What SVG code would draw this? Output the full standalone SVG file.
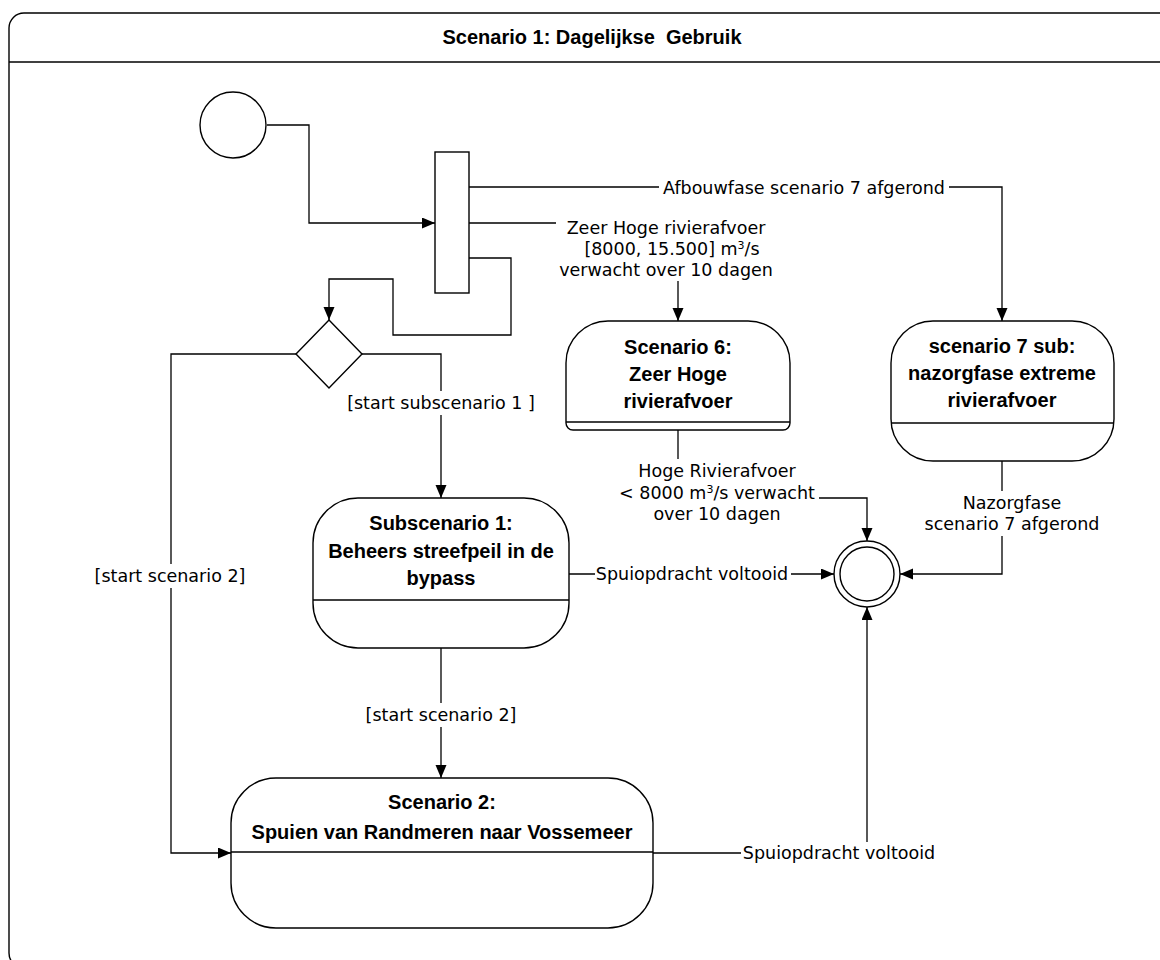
<svg xmlns="http://www.w3.org/2000/svg" width="1160" height="960" viewBox="0 0 1160 960">
<defs>
<marker id="arr" markerUnits="userSpaceOnUse" markerWidth="14" markerHeight="12" refX="13" refY="5.5" orient="auto">
<path d="M0,0 L13,5.5 L0,11 Z" fill="#000"/>
</marker>
<style>
.shape{fill:#fff;stroke:#000;stroke-width:1.4}
.line{fill:none;stroke:#000;stroke-width:1.3}
.edge{fill:none;stroke:#000;stroke-width:1.3;marker-end:url(#arr)}
.bg{fill:#fff;stroke:none}
.lbl{font-family:"DejaVu Sans",Verdana,sans-serif;font-size:17.5px;fill:#000;text-anchor:middle}
.nt{font-family:"Liberation Sans",Arial,sans-serif;font-size:20px;font-weight:bold;fill:#000;text-anchor:middle}
.title{white-space:pre}
.sup{font-size:11px}
</style>
</defs>
<rect width="1160" height="960" fill="#fff"/>
<g id="frame">
<rect class="shape" x="9" y="13" width="1166" height="955" rx="15"/>
<line class="line" x1="9" y1="62" x2="1175" y2="62"/>
<text class="nt title" x="592" y="44" xml:space="preserve">Scenario 1: Dagelijkse  Gebruik</text>
</g>
<g id="connectors">
<path class="edge" d="M267,125 H309 V223 H435"/>
<path class="edge" d="M469,187 H1002 V321"/>
<path class="edge" d="M469,223 H678 V321"/>
<path class="edge" d="M469,258 H511 V335 H393 V279 H329 V320"/>
<path class="edge" d="M362,354 H441 V498"/>
<path class="edge" d="M296,354 H171 V853 H231"/>
<path class="edge" d="M441,648 V778"/>
<path class="edge" d="M569,574 H834"/>
<path class="edge" d="M678,430 V498 H867 V541"/>
<path class="edge" d="M1002,461 V574 H900"/>
<path class="edge" d="M653,853 H867 V607"/>
<g id="labels">
<rect class="bg" x="659" y="176" width="290" height="23"/>
<text class="lbl" x="804" y="194">Afbouwfase scenario 7 afgerond</text>
<rect class="bg" x="556" y="216" width="220" height="65"/>
<text class="lbl" x="666" y="234">Zeer Hoge rivierafvoer</text>
<text class="lbl" x="672" y="255">[8000, 15.500] m<tspan class="sup" baseline-shift="super">3</tspan>/s</text>
<text class="lbl" x="666" y="276">verwacht over 10 dagen</text>
<rect class="bg" x="344" y="391" width="195" height="24"/>
<text class="lbl" x="441" y="409">[start subscenario 1 ]</text>
<rect class="bg" x="92" y="564" width="156" height="24"/>
<text class="lbl" x="170" y="582">[start scenario 2]</text>
<rect class="bg" x="363" y="703" width="156" height="24"/>
<text class="lbl" x="441" y="721">[start scenario 2]</text>
<rect class="bg" x="595" y="562" width="196" height="24"/>
<text class="lbl" x="692" y="580">Spuiopdracht voltooid</text>
<rect class="bg" x="615" y="459" width="204" height="67"/>
<text class="lbl" x="717" y="477">Hoge Rivierafvoer</text>
<text class="lbl" x="717" y="499">&lt; 8000 m<tspan class="sup" baseline-shift="super">3</tspan>/s verwacht</text>
<text class="lbl" x="717" y="520">over 10 dagen</text>
<rect class="bg" x="923" y="491" width="178" height="45"/>
<text class="lbl" x="1012" y="509">Nazorgfase</text>
<text class="lbl" x="1012" y="530">scenario 7 afgerond</text>
<rect class="bg" x="741" y="842" width="197" height="24"/>
<text class="lbl" x="839" y="859">Spuiopdracht voltooid</text>
</g>
</g>
<g id="start">
<circle class="shape" cx="233" cy="125" r="33"/>
</g>
<g id="fork">
<rect class="shape" x="435" y="152" width="34" height="141"/>
</g>
<g id="decision">
<polygon class="shape" points="329,320 362,354 329,388 296,354"/>
</g>
<g id="scenario6">
<path class="shape" d="M566,363 A42,42 0 0 1 608,321 H748 A42,42 0 0 1 790,363 V423 A7,7 0 0 1 783,430 H573 A7,7 0 0 1 566,423 Z"/>
<line class="line" x1="566" y1="422" x2="790" y2="422"/>
<text class="nt" x="678" y="354">Scenario 6:</text>
<text class="nt" x="678" y="381">Zeer Hoge</text>
<text class="nt" x="678" y="408">rivierafvoer</text>
</g>
<g id="scenario7">
<rect class="shape" x="891" y="321" width="223" height="140" rx="42"/>
<line class="line" x1="891" y1="423" x2="1114" y2="423"/>
<text class="nt" x="1002" y="353">scenario 7 sub:</text>
<text class="nt" x="1002" y="380">nazorgfase extreme</text>
<text class="nt" x="1002" y="407">rivierafvoer</text>
</g>
<g id="subscenario1">
<rect class="shape" x="313" y="498" width="256" height="150" rx="45"/>
<line class="line" x1="313" y1="600" x2="569" y2="600"/>
<text class="nt" x="441" y="530">Subscenario 1:</text>
<text class="nt" x="441" y="558">Beheers streefpeil in de</text>
<text class="nt" x="441" y="585">bypass</text>
</g>
<g id="scenario2">
<rect class="shape" x="231" y="778" width="422" height="150" rx="45"/>
<line class="line" x1="231" y1="852" x2="653" y2="852"/>
<text class="nt" x="442" y="809">Scenario 2:</text>
<text class="nt" x="442" y="839">Spuien van Randmeren naar Vossemeer</text>
</g>
<g id="final">
<circle class="shape" cx="867" cy="574" r="33"/>
<circle class="shape" cx="867" cy="574" r="27"/>
</g>
</svg>
